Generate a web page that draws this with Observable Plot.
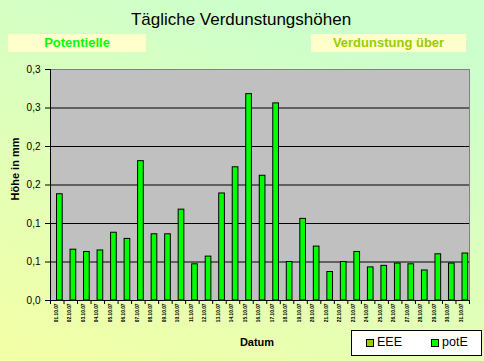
<!DOCTYPE html>
<html>
<head>
<meta charset="utf-8">
<script src="https://cdn.jsdelivr.net/npm/d3@7"></script>
<script src="https://cdn.jsdelivr.net/npm/@observablehq/plot@0.6"></script>
<style>
  html, body { margin: 0; padding: 0; }
  #chart {
    position: relative; width: 484px; height: 361px; overflow: hidden;
    background: linear-gradient(200deg, #ccffcc 15%, #f4ffa6 100%);
    font-family: "Liberation Sans", Arial, sans-serif;
  }
  #chart svg { position: absolute; left: 0; top: 0; }
  .ov { position: absolute; white-space: nowrap; }
</style>
</head>
<body>
<div id="chart"></div>
<script>
const dates = ["01.10.07","02.10.07","03.10.07","04.10.07","05.10.07","06.10.07","07.10.07","08.10.07",
  "09.10.07","10.10.07","11.10.07","12.10.07","13.10.07","14.10.07","15.10.07","16.10.07",
  "17.10.07","18.10.07","19.10.07","20.10.07","21.10.07","22.10.07","23.10.07","24.10.07",
  "25.10.07","26.10.07","27.10.07","28.10.07","29.10.07","30.10.07","31.10.07"];
const potE = [0.138, 0.066, 0.063, 0.065, 0.088, 0.080, 0.181, 0.086,
  0.086, 0.118, 0.047, 0.057, 0.139, 0.173, 0.268, 0.162,
  0.256, 0.050, 0.106, 0.070, 0.037, 0.050, 0.063, 0.043,
  0.045, 0.048, 0.047, 0.039, 0.060, 0.048, 0.061];
const yTicks = [0, 0.05, 0.1, 0.15, 0.2, 0.25, 0.3];
const yTickLabels = ["0,0", "0,1", "0,1", "0,2", "0,2", "0,3", "0,3"];
const seriesNames = ["EEE", "potE"];
const seriesColors = ["#99cc00", "#00ff00"];

const data = dates.map((d, i) => ({date: d, potE: potE[i]}));

const W = 484, H = 361;
const mL = 50, mR = 15, mT = 69, mB = 61;
const padIn = 0.58;
const step = (W - mL - mR) / dates.length;

const chart = Plot.plot({
  width: W, height: H,
  marginLeft: mL, marginRight: mR, marginTop: mT, marginBottom: mB,
  style: {background: "transparent", fontFamily: "'Liberation Sans', Arial, sans-serif", color: "black"},
  x: {type: "band", domain: dates, paddingInner: padIn, paddingOuter: padIn / 2, round: false, label: null},
  y: {domain: [0, 0.3], label: null},
  marks: [
    Plot.frame({fill: "#c0c0c0", stroke: null}),
    Plot.ruleY(yTicks.slice(1, -1), {stroke: "black", strokeWidth: 1}),
    Plot.barY(data, {x: "date", y: "potE", fill: seriesColors[1], stroke: "black", strokeWidth: 1, dx: 2.6}),
    Plot.frame({stroke: "#808080", fill: null}),
    Plot.ruleY([0], {stroke: "black"}),
    Plot.ruleX([dates[0]], {x: d => d, dx: -step / 2, stroke: "black"}),
    Plot.axisY({ticks: yTicks, tickFormat: d => yTickLabels[yTicks.indexOf(d)], tickSize: 5, tickPadding: 5,
      fontSize: 10, label: null, stroke: "black"}),
    Plot.axisX({ticks: dates, tickSize: 4, tickFormat: () => "", dx: -step / 2, label: null, stroke: "black"}),
    Plot.axisX({ticks: [dates[dates.length - 1]], tickSize: 4, tickFormat: () => "", dx: step / 2, label: null, stroke: "black"}),
    Plot.axisX({ticks: dates, tickSize: 0, tickPadding: 3, tickRotate: -90, fontSize: 4.8, fontWeight: "bold",
      dx: -1.3, label: null})
  ]
});
const root = document.getElementById("chart");
root.appendChild(chart);

function ov(text, css) {
  const d = document.createElement("div");
  d.className = "ov";
  d.textContent = text;
  Object.assign(d.style, css);
  root.appendChild(d);
  return d;
}
// title
ov("Tägliche Verdunstungshöhen", {left: "0px", width: "482px", top: "10.5px", textAlign: "center",
  fontSize: "17px", lineHeight: "17px", color: "black"});
// subtitle boxes
ov("Potentielle", {left: "8px", top: "34px", width: "138px", height: "18px", lineHeight: "18px", textAlign: "center",
  background: "#ffffcc", color: seriesColors[1], fontWeight: "bold", fontSize: "13px"});
ov("Verdunstung über", {left: "311px", top: "34px", width: "155px", height: "18px", lineHeight: "18px", textAlign: "center",
  background: "#ffffcc", color: seriesColors[0], fontWeight: "bold", fontSize: "13px"});
// axis titles
ov("Datum", {left: "200px", width: "114px", top: "337px", textAlign: "center", fontSize: "11px", lineHeight: "11px",
  fontWeight: "bold", color: "black"});
ov("Höhe in mm", {left: "15px", top: "169px", fontSize: "11px", lineHeight: "11px", fontWeight: "bold", color: "black",
  transform: "translate(-50%, -50%) rotate(-90deg)"});
// legend
const leg = document.createElement("div");
Object.assign(leg.style, {position: "absolute", left: "351px", top: "330px", width: "129px", height: "24px",
  background: "white", border: "1px solid black"});
root.appendChild(leg);
const legX = [14, 79];
seriesNames.forEach((name, i) => {
  const sq = document.createElement("div");
  Object.assign(sq.style, {position: "absolute", left: legX[i] + "px", top: "8px", width: "6px", height: "6px",
    background: seriesColors[i], border: "1px solid black"});
  leg.appendChild(sq);
  const t = document.createElement("div");
  t.textContent = name;
  Object.assign(t.style, {position: "absolute", left: (legX[i] + 11) + "px", top: "4px", fontSize: "12.5px",
    lineHeight: "14px", color: "black", whiteSpace: "nowrap"});
  leg.appendChild(t);
});
</script>
</body>
</html>
